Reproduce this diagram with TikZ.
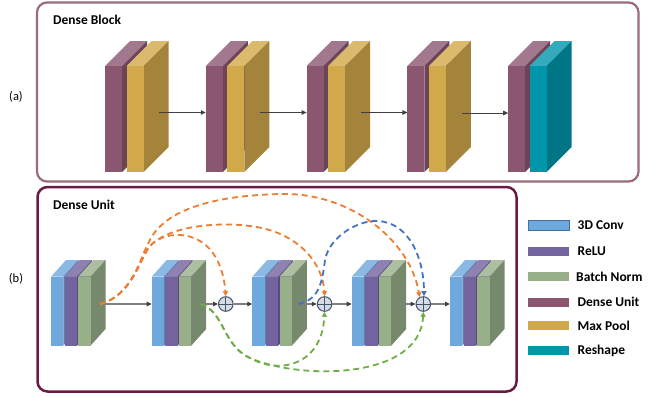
\documentclass[tikz,border=0pt]{standalone}
\usepackage{fontspec}
\setmainfont{Carlito}
\usetikzlibrary{arrows.meta}
\definecolor{unit}{HTML}{8A5670}
\definecolor{pool}{HTML}{D2A94A}
\definecolor{reshape}{HTML}{0096AA}
\definecolor{conv}{HTML}{6FA8DC}
\definecolor{convline}{HTML}{41719C}
\definecolor{relu}{HTML}{73639F}
\definecolor{bnorm}{HTML}{97B08A}
\definecolor{blockframe}{HTML}{9A6B7D}
\definecolor{unitframe}{HTML}{6B1A44}
\definecolor{orange}{HTML}{ED7D31}
\definecolor{green}{HTML}{70AD47}
\definecolor{blue}{HTML}{4472C4}
\definecolor{sumfill}{HTML}{D6DCE4}
\definecolor{sumline}{HTML}{44546A}

% x, y (top), width, height, depth x, depth y, colour
\newcommand{\slab}[7]{%
  \fill[#7!80!white] (#1,#2) -- ++(#5,-#6) -- ++(#3,0) -- ++(-#5,#6) -- cycle;
  \fill[#7!78!black] (#1+#3,#2) -- ++(#5,-#6) -- ++(0,#4) -- ++(-#5,#6) -- cycle;
  \fill[#7] (#1,#2) rectangle ++(#3,#4);
}
\newcommand{\bigslab}[2]{\slab{#1}{66}{17}{106}{25}{25}{#2}}
\newcommand{\smallslab}[2]{\slab{#1}{276.7}{12.3}{69}{15}{16.7}{#2}}

\begin{document}
\begin{tikzpicture}[x=1bp,y=-1bp,
  every node/.style={font=\fontsize{12.5}{14}\selectfont},
  title/.style={anchor=base west,inner sep=0pt,font=\fontsize{13.5}{16}\selectfont\bfseries},
  frame/.style={rounded corners=10bp},
  flow/.style={line width=1bp,color=black!75,-{Triangle[length=5bp,width=4.5bp]}},
  mainflow/.style={line width=1.3bp,color=black!50,-{Triangle[length=5bp,width=4.5bp,color=black!75]}},
  skip/.style={line width=1.8bp,dash pattern=on 6bp off 4bp,-{Triangle[length=5bp,width=5bp]}},
  sum/.style={circle,draw=sumline,fill=sumfill,line width=1bp,minimum size=14.6bp,inner sep=0pt,
    path picture={\draw[sumline,line width=0.8bp]
      (path picture bounding box.north) -- (path picture bounding box.south)
      (path picture bounding box.west) -- (path picture bounding box.east);}},
  key/.style={minimum width=41bp,minimum height=9.5bp,inner sep=0pt},
  keytext/.style={anchor=base west,inner sep=0pt,font=\fontsize{13.5}{16}\selectfont\bfseries}]
  \useasboundingbox (0,0) rectangle (662,396);

  % (a) dense block
  \draw[frame,blockframe,line width=2.2bp] (37,2.5) rectangle (638.5,181.5);
  \node[title] (tblock) at (53,24.5) {Dense Block};
  \node (la) at (16,97) {(a)};

  \bigslab{105}{unit}   \bigslab{126.5}{pool}
  \bigslab{205.8}{unit} \bigslab{227.3}{pool}
  \bigslab{306.6}{unit} \bigslab{328.1}{pool}
  \bigslab{407.4}{unit} \bigslab{428.9}{pool}
  \bigslab{508.2}{unit} \bigslab{529.7}{reshape}

  \coordinate (b1) at (159,112.5);
  \coordinate (b2i) at (205.8,112.5);
  \coordinate (b2) at (259.8,112.5);
  \coordinate (b3i) at (306.6,112.5);
  \coordinate (b3) at (360.6,112.5);
  \coordinate (b4i) at (407.4,112.5);
  \coordinate (b4) at (462,113);
  \coordinate (b5i) at (508.2,113);
  \draw[flow] (b1) -- (b2i);
  \draw[flow] (b2) -- (b3i);
  \draw[flow] (b3) -- (b4i);
  \draw[flow] (b4) -- (b5i);

  % (b) dense unit
  \draw[frame,unitframe,line width=2.5bp] (37.5,187) rectangle (516.5,391.5);
  \node[title] (tunit) at (53,209.5) {Dense Unit};
  \node (lb) at (16,279) {(b)};

  \smallslab{51}{conv}    \smallslab{64.6}{relu}  \smallslab{78.2}{bnorm}
  \smallslab{151.7}{conv} \smallslab{165.3}{relu} \smallslab{178.9}{bnorm}
  \smallslab{252.3}{conv} \smallslab{265.9}{relu} \smallslab{279.5}{bnorm}
  \smallslab{351.7}{conv} \smallslab{365.3}{relu} \smallslab{378.9}{bnorm}
  \smallslab{450}{conv}   \smallslab{463.6}{relu} \smallslab{477.2}{bnorm}

  \node (s1) at (225.8,304) [sum] {};
  \node (s2) at (324.6,304) [sum] {};
  \node (s3) at (423.3,304) [sum] {};

  \coordinate (u1) at (100,304);
  \coordinate (u2i) at (151.7,304);
  \coordinate (u2) at (200.5,304);
  \coordinate (u3i) at (252.3,304);
  \coordinate (u3) at (298.3,304);
  \coordinate (u4i) at (351.7,304);
  \coordinate (u4) at (396.7,304);
  \coordinate (u5i) at (450,304);

  \draw[mainflow] (u1) -- (u2i);
  \draw[mainflow] (u2) -- (s1);
  \draw[mainflow] (s1) -- (u3i);
  \draw[mainflow] (u3) -- (s2);
  \draw[mainflow] (s2) -- (u4i);
  \draw[mainflow] (u4) -- (s3);
  \draw[mainflow] (s3) -- (u5i);

  \draw[skip,orange] (u1) .. controls (132,296) and (140,258) .. (150,246)
    .. controls (165,228) and (220,225) .. (s1.north);
  \draw[skip,orange] (u1) .. controls (132,296) and (140,258) .. (150,246)
    .. controls (170,225) and (220,222) .. (250,226)
    .. controls (300,232) and (323,265) .. (s2.north);
  \draw[skip,orange] (u1) .. controls (132,296) and (140,258) .. (148,244)
    .. controls (160,215) and (200,196) .. (280,194)
    .. controls (350,192) and (410,240) .. (s3.118);
  \draw[skip,blue] (u3) .. controls (318,300) and (322,285) .. (325,260)
    .. controls (330,235) and (360,220) .. (377,221)
    .. controls (410,222) and (424,260) .. (s3.85);
  \draw[skip,green] (u2) .. controls (225,312) and (222,345) .. (250,358)
    .. controls (280,375) and (322,365) .. (s2.south);
  \draw[skip,green] (u2) .. controls (225,312) and (222,345) .. (250,358)
    .. controls (300,380) and (420,380) .. (s3.south);

  % legend
  \node (k1) at (548.7,225.3) [key,fill=conv,draw=convline,line width=0.8bp] {};
  \node (k2) at (548.7,251.3) [key,fill=relu] {};
  \node (k3) at (548.7,276.7) [key,fill=bnorm] {};
  \node (k4) at (548.7,302.3) [key,fill=unit] {};
  \node (k5) at (548.7,325.7) [key,fill=pool] {};
  \node (k6) at (548.7,350.3) [key,fill=reshape] {};
  \node[keytext] (t1) at (577.5,229.8) {3D Conv};
  \node[keytext] (t2) at (577.5,255.8) {ReLU};
  \node[keytext] (t3) at (576,281.2) {Batch Norm};
  \node[keytext] (t4) at (577.5,306.8) {Dense Unit};
  \node[keytext] (t5) at (577.5,330.2) {Max Pool};
  \node[keytext] (t6) at (577.5,354.8) {Reshape};
\end{tikzpicture}
\end{document}
